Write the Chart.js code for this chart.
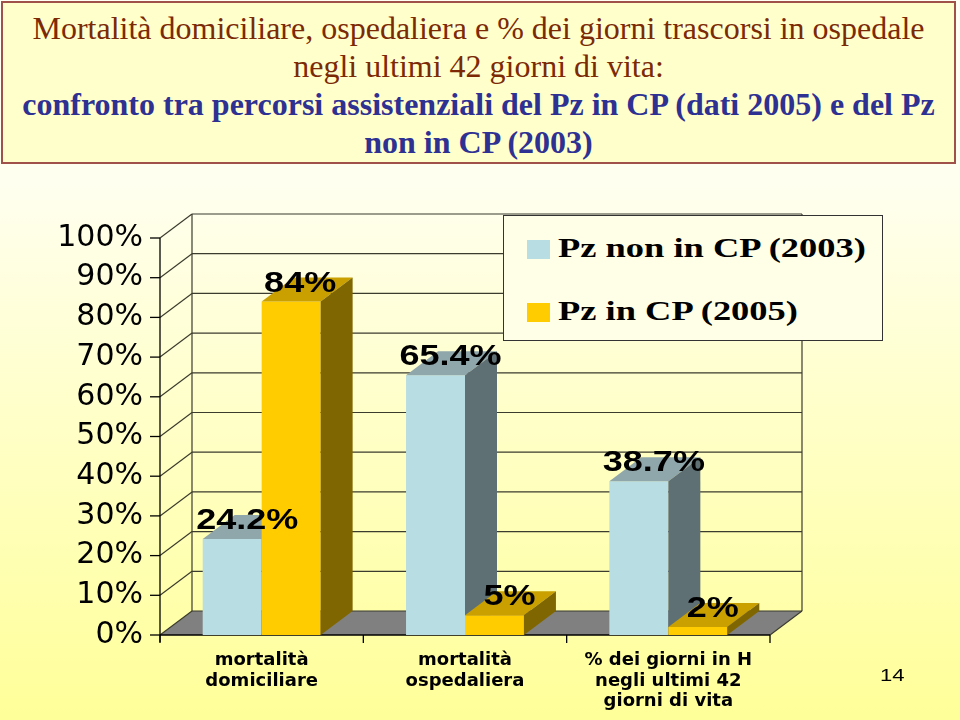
<!DOCTYPE html>
<html>
<head>
<meta charset="utf-8">
<script src="https://cdn.jsdelivr.net/npm/chart.js@4.4.0/dist/chart.umd.min.js"></script>
<style>
  html, body { margin: 0; padding: 0; }
  body {
    width: 960px; height: 720px; overflow: hidden; position: relative;
    background: linear-gradient(to bottom, #fffff6 0%, #fffff0 25%, #ffffcc 55%, #ffff99 100%);
  }
  #chart { position: absolute; left: 0; top: 0; }
  #title {
    position: absolute; left: 1px; top: 1px; width: 955px; height: 163px;
    box-sizing: border-box; border: 2px solid #a0524a; background: #ffffcc;
    text-align: center; font-family: "Liberation Serif", "Times New Roman", serif;
    font-size: 32px; line-height: 38px; padding-top: 6px;
  }
  #title div { white-space: nowrap; }
  #title .l1 { color: #7b2a05; }
  #title .l2 { color: #2e3192; font-weight: bold; }
  #legend {
    position: absolute; left: 503px; top: 215px; width: 380px; height: 126px;
    box-sizing: border-box; border: 1px solid #333; background: #ffffe8;
  }
  #legend .mark { position: absolute; left: 23px; width: 23px; height: 19px; }
  #legend .txt {
    position: absolute; left: 54px; white-space: nowrap;
    font-family: "Liberation Serif", "Times New Roman", serif; font-weight: bold;
    font-size: 27px; line-height: 27px; transform: scaleX(1.35); transform-origin: left center;
  }
  #page {
    position: absolute; left: 880px; top: 666px;
    font-family: "Liberation Sans", Arial, sans-serif; font-size: 17px; line-height: 20px;
    transform: scaleX(1.3); transform-origin: left center;
  }
</style>
</head>
<body>
<canvas id="chart" width="960" height="720"></canvas>
<div id="title">
  <div class="l1">Mortalità domiciliare, ospedaliera e % dei giorni trascorsi in ospedale</div>
  <div class="l1">negli ultimi 42 giorni di vita:</div>
  <div class="l2">confronto tra percorsi assistenziali del Pz in CP (dati 2005) e del Pz</div>
  <div class="l2">non in CP (2003)</div>
</div>
<div id="legend"></div>
<div id="page">14</div>
<script>
const categories = [
  ["mortalità", "domiciliare"],
  ["mortalità", "ospedaliera"],
  ["% dei giorni in H", "negli ultimi 42", "giorni di vita"]
];
const seriesNames = ["Pz non in CP (2003)", "Pz in CP (2005)"];
const nonCP2003 = [24.2, 65.4, 38.7];
const inCP2005 = [84, 5, 2];
const yTicks = [0, 10, 20, 30, 40, 50, 60, 70, 80, 90, 100];

// colori delle facce (fronte, sopra, lato)
const faces = [
  { front: "#b8dde2", top: "#8fa6aa", side: "#5f7075" },
  { front: "#ffcc00", top: "#c9a000", side: "#806600" }
];
const DX = 32, DY = -24;

// legenda HTML
const legendEl = document.getElementById("legend");
seriesNames.forEach((name, i) => {
  const mark = document.createElement("div");
  mark.className = "mark";
  mark.style.top = (i === 0 ? 24 : 87) + "px";
  mark.style.background = faces[i].front;
  legendEl.appendChild(mark);
  const txt = document.createElement("div");
  txt.className = "txt";
  txt.style.top = (i === 0 ? 19 : 82) + "px";
  txt.textContent = name;
  legendEl.appendChild(txt);
});

function line(ctx, x1, y1, x2, y2) {
  ctx.beginPath();
  ctx.moveTo(x1, y1);
  ctx.lineTo(x2, y2);
  ctx.stroke();
}

function poly(ctx, pts, fill) {
  ctx.beginPath();
  ctx.moveTo(pts[0][0], pts[0][1]);
  for (let k = 1; k < pts.length; k++) ctx.lineTo(pts[k][0], pts[k][1]);
  ctx.closePath();
  ctx.fillStyle = fill;
  ctx.fill();
}

const box3d = {
  id: "box3d",
  beforeDatasetsDraw(chart) {
    const ctx = chart.ctx;
    const { left, right, top, bottom } = chart.chartArea;
    const yScale = chart.scales.y;
    ctx.save();

    // pavimento
    poly(ctx, [[left, bottom], [right, bottom], [right + DX, bottom + DY], [left + DX, bottom + DY]], "#808080");

    // pareti e griglia
    ctx.strokeStyle = "#3b3b2e";
    ctx.lineWidth = 1.2;
    yTicks.forEach(v => {
      const py = yScale.getPixelForValue(v);
      line(ctx, left, py, left + DX, py + DY);
      line(ctx, left + DX, py + DY, right + DX, py + DY);
    });
    line(ctx, left + DX, top + DY, left + DX, bottom + DY);
    line(ctx, right + DX, top + DY, right + DX, bottom + DY);
    line(ctx, right, bottom, right + DX, bottom + DY);

    // assi frontali
    ctx.strokeStyle = "#000";
    ctx.lineWidth = 1.3;
    line(ctx, left, top, left, bottom + 7);
    yTicks.forEach(v => {
      const py = yScale.getPixelForValue(v);
      line(ctx, left - 10, py, left, py);
    });
    line(ctx, left, bottom, right, bottom);
    const step = (right - left) / categories.length;
    for (let k = 0; k <= categories.length; k++) {
      line(ctx, left + k * step, bottom, left + k * step, bottom + 8);
    }

    // barre 3D
    const metas = chart.data.datasets.map((d, i) => chart.getDatasetMeta(i));
    categories.forEach((c, i) => {
      metas.forEach((meta, d) => {
        const bar = meta.data[i];
        const x0 = bar.x - bar.width / 2, x1 = bar.x + bar.width / 2;
        const yt = bar.y, yb = bar.base;
        poly(ctx, [[x0, yb], [x0, yt], [x1, yt], [x1, yb]], faces[d].front);
        poly(ctx, [[x0, yt], [x1, yt], [x1 + DX, yt + DY], [x0 + DX, yt + DY]], faces[d].top);
        poly(ctx, [[x1, yt], [x1 + DX, yt + DY], [x1 + DX, yb + DY], [x1, yb]], faces[d].side);
      });
    });

    ctx.restore();
    return false;
  },
  afterDraw(chart) {
    const ctx = chart.ctx;
    ctx.save();
    ctx.fillStyle = "#000";
    ctx.font = "bold 30px 'Liberation Sans', Arial, sans-serif";
    ctx.textAlign = "center";
    ctx.textBaseline = "alphabetic";
    chart.data.datasets.forEach((ds, d) => {
      const meta = chart.getDatasetMeta(d);
      ds.data.forEach((v, i) => {
        const bar = meta.data[i];
        // l'etichetta dell'84% e' un po' piu' a sinistra nell'originale
        const shift = (d === 1 && i === 0) ? 9 : 15;
        ctx.save();
        ctx.translate(bar.x + shift, bar.y - 10);
        ctx.scale(1.2, 1);
        ctx.fillText(v + "%", 0, 0);
        ctx.restore();
      });
    });
    ctx.restore();
  }
};

new Chart(document.getElementById("chart"), {
  type: "bar",
  data: {
    labels: categories,
    datasets: [
      { label: seriesNames[0], data: nonCP2003, backgroundColor: faces[0].front },
      { label: seriesNames[1], data: inCP2005, backgroundColor: faces[1].front }
    ]
  },
  options: {
    responsive: false,
    animation: false,
    events: [],
    categoryPercentage: 0.58,
    barPercentage: 1.0,
    layout: { padding: { top: 238, right: 190, left: 0, bottom: 0 } },
    plugins: {
      legend: { display: false },
      tooltip: { enabled: false }
    },
    scales: {
      x: {
        grid: { display: false, drawTicks: false },
        border: { display: false },
        ticks: {
          color: "#000",
          padding: 15,
          maxRotation: 0,
          autoSkip: false,
          font: { family: "'DejaVu Sans'", size: 18, weight: "bold", lineHeight: 1.15 }
        },
        afterFit(scale) { scale.height = 85; }
      },
      y: {
        min: 0,
        max: 100,
        grid: { display: false, drawTicks: false },
        border: { display: false },
        ticks: {
          stepSize: 10,
          autoSkip: false,
          color: "#000",
          padding: 17,
          font: { family: "'DejaVu Sans'", size: 30 },
          callback: v => v + "%"
        },
        afterFit(scale) { scale.width = 160; }
      }
    }
  },
  plugins: [box3d]
});
</script>
</body>
</html>
